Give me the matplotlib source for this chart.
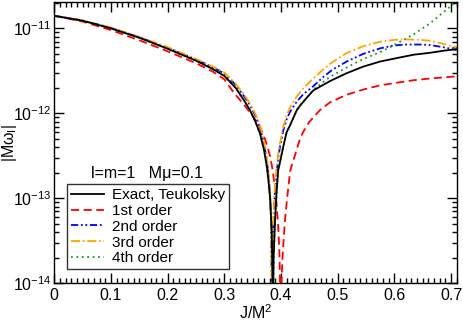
import matplotlib
matplotlib.use('Agg')
import matplotlib.pyplot as plt
from matplotlib.ticker import LogLocator, MultipleLocator, FixedLocator, FuncFormatter
import numpy as np

plt.rcParams['font.family'] = ['Liberation Sans', 'DejaVu Sans']
plt.rcParams['mathtext.fontset'] = 'custom'
plt.rcParams['mathtext.rm'] = 'Liberation Sans'
plt.rcParams['mathtext.it'] = 'Liberation Sans'

# values, stored as log10(|M omega_I|)
J_exact = [0.00, 0.05, 0.10, 0.15, 0.20, 0.25, 0.28, 0.30, 0.32, 0.335, 0.345,
           0.355, 0.363, 0.370, 0.375, 0.378, 0.381, 0.3836, 0.385, 0.3855,
           0.387, 0.3895, 0.392, 0.395, 0.398, 0.404, 0.410, 0.416, 0.428,
           0.4335, 0.445, 0.457, 0.4865, 0.515, 0.545, 0.575, 0.604, 0.634,
           0.663, 0.690, 0.710]
lg_exact = [-10.852, -10.91, -11.00, -11.11, -11.24, -11.38, -11.48, -11.56,
            -11.70, -11.85, -11.96, -12.10, -12.24, -12.43, -12.63, -12.80,
            -13.02, -13.41, -13.88, -14.5, -13.70, -13.26, -12.95, -12.67,
            -12.58, -12.39, -12.22, -12.14, -11.96, -11.91, -11.82, -11.73,
            -11.62, -11.53, -11.45, -11.39, -11.35, -11.31, -11.287, -11.26,
            -11.245]

J_1st = [0.00, 0.05, 0.10, 0.15, 0.20, 0.25, 0.28, 0.30, 0.317, 0.335, 0.351,
         0.362, 0.369, 0.375, 0.381, 0.385, 0.389, 0.392, 0.395, 0.397, 0.398,
         0.3995, 0.401, 0.403, 0.405, 0.407, 0.410, 0.416, 0.422, 0.4335,
         0.439, 0.450, 0.469, 0.4865, 0.516, 0.545, 0.575, 0.604, 0.634,
         0.663, 0.690, 0.710]
lg_1st = [-10.852, -10.92, -11.02, -11.14, -11.27, -11.41, -11.51, -11.60,
          -11.76, -11.90, -12.04, -12.15, -12.25, -12.37, -12.51, -12.66,
          -12.86, -13.05, -13.33, -13.60, -13.88, -14.5, -13.95, -13.65,
          -13.45, -13.26, -13.05, -12.68, -12.55, -12.30, -12.22, -12.10,
          -11.96, -11.87, -11.78, -11.72, -11.67, -11.64, -11.61, -11.59,
          -11.575, -11.565]

J_2nd = [0.00, 0.05, 0.10, 0.15, 0.20, 0.25, 0.28, 0.30, 0.32, 0.335, 0.345,
         0.355, 0.363, 0.370, 0.375, 0.378, 0.381, 0.3825, 0.3835, 0.384,
         0.3845, 0.386, 0.388, 0.391, 0.395, 0.398, 0.404, 0.410, 0.416,
         0.428, 0.440, 0.457, 0.475, 0.490, 0.516, 0.545, 0.575, 0.600,
         0.622, 0.645, 0.663, 0.685, 0.710]
lg_2nd = [-10.852, -10.907, -10.995, -11.105, -11.23, -11.365, -11.46, -11.53,
          -11.665, -11.80, -11.90, -12.03, -12.17, -12.36, -12.55, -12.73,
          -12.98, -13.30, -13.90, -14.5, -13.80, -13.35, -13.05, -12.78,
          -12.53, -12.40, -12.20, -12.07, -11.98, -11.86, -11.77, -11.68,
          -11.57, -11.49, -11.39, -11.30, -11.235, -11.20, -11.19, -11.19,
          -11.196, -11.22, -11.255]

J_3rd = [0.00, 0.05, 0.10, 0.15, 0.20, 0.25, 0.28, 0.30, 0.32, 0.335, 0.345,
         0.355, 0.363, 0.370, 0.375, 0.378, 0.381, 0.3825, 0.3835, 0.384,
         0.3845, 0.386, 0.388, 0.391, 0.395, 0.398, 0.404, 0.410, 0.416,
         0.428, 0.440, 0.457, 0.475, 0.490, 0.516, 0.545, 0.575, 0.600,
         0.622, 0.645, 0.663, 0.685, 0.710]
lg_3rd = [-10.852, -10.905, -10.99, -11.10, -11.22, -11.36, -11.45, -11.52,
          -11.65, -11.78, -11.88, -12.01, -12.14, -12.33, -12.52, -12.70,
          -12.95, -13.30, -13.90, -14.5, -13.80, -13.30, -13.00, -12.72,
          -12.48, -12.36, -12.16, -12.02, -11.93, -11.80, -11.70, -11.59,
          -11.48, -11.40, -11.29, -11.21, -11.157, -11.135, -11.13, -11.135,
          -11.146, -11.18, -11.225]

J_4th = [0.00, 0.05, 0.10, 0.15, 0.20, 0.25, 0.28, 0.30, 0.32, 0.335, 0.345,
         0.355, 0.363, 0.370, 0.375, 0.378, 0.381, 0.3836, 0.385, 0.3855,
         0.387, 0.3895, 0.392, 0.395, 0.398, 0.404, 0.410, 0.416, 0.428,
         0.4335, 0.445, 0.457, 0.4865, 0.516, 0.545, 0.575, 0.604, 0.634,
         0.663, 0.692, 0.710]
lg_4th = [-10.852, -10.91, -11.00, -11.11, -11.24, -11.38, -11.48, -11.56,
          -11.70, -11.85, -11.96, -12.10, -12.24, -12.43, -12.63, -12.80,
          -13.02, -13.41, -13.88, -14.5, -13.70, -13.26, -12.95, -12.67,
          -12.58, -12.39, -12.22, -12.14, -11.96, -11.91, -11.82, -11.72,
          -11.57, -11.46, -11.36, -11.28, -11.18, -11.07, -10.94, -10.78,
          -10.68]

labels = ['Exact, Teukolsky', '1st order', '2nd order', '3rd order', '4th order']

fig = plt.figure(figsize=(4.63, 3.22), dpi=100)
ax = fig.add_axes([0.1173, 0.1202, 0.8691, 0.8745])

ax.plot(J_exact, 10.0**np.array(lg_exact), color='black', lw=1.3, label=labels[0], zorder=5)
ax.plot(J_1st, 10.0**np.array(lg_1st), color='#ff0000', lw=1.3, dashes=(4.5, 2.5), label=labels[1])
ax.plot(J_2nd, 10.0**np.array(lg_2nd), color='#0000ff', lw=1.3, dashes=(4, 1.5, 1, 1.5, 1, 1.5), label=labels[2])
ax.plot(J_3rd, 10.0**np.array(lg_3rd), color='#ffa500', lw=1.3, dashes=(5, 1.5, 1, 1.5), label=labels[3])
ax.plot(J_4th, 10.0**np.array(lg_4th), color='#1a9a1a', lw=1.3, dashes=(1, 2), label=labels[4])

ax.set_yscale('log')
ax.set_xlim(0, 0.71)
ax.set_ylim(1e-14, 2.06e-11)

ax.xaxis.set_major_locator(MultipleLocator(0.1))
ax.xaxis.set_minor_locator(MultipleLocator(0.01))
ax.yaxis.set_major_locator(FixedLocator([1e-14, 1e-13, 1e-12, 1e-11]))
ax.yaxis.set_minor_locator(LogLocator(base=10, subs=np.arange(2, 10)))
ax.xaxis.set_major_formatter(FuncFormatter(lambda v, p: '0' if abs(v) < 1e-9 else '%.1f' % v))
ax.yaxis.set_major_formatter(FuncFormatter(lambda v, p: r'$10^{%d}$' % int(round(np.log10(v)))))
ax.yaxis.set_minor_formatter(FuncFormatter(lambda v, p: ''))

ax.tick_params(which='both', direction='in', top=True, right=True, width=1, labelsize=11.5)
ax.tick_params(which='major', length=7)
ax.tick_params(which='minor', length=3.5)
ax.tick_params(axis='y', pad=2)
for s in ax.spines.values():
    s.set_linewidth(1)

ax.set_xlabel(r'J/M$^2$', fontsize=11.5, labelpad=0)
ax.set_ylabel(r'|M$\omega_{\rm I}$|', fontsize=11.5)
ax.yaxis.set_label_coords(-0.088, 0.5)

ax.text(0.23, 0.39, u'l=m=1   M\u03bc=0.1', transform=ax.transAxes, ha='center',
        va='center', fontsize=11.5)

leg = ax.legend(loc='lower left', bbox_to_anchor=(0.031, 0.05), fontsize=11,
                handlelength=2.2, handletextpad=0.5, labelspacing=0.12,
                borderpad=0.25, borderaxespad=0, fancybox=False, frameon=True)
leg.get_frame().set_edgecolor('black')
leg.get_frame().set_linewidth(1)

fig.savefig('out.png', dpi=100)
plt.close()
